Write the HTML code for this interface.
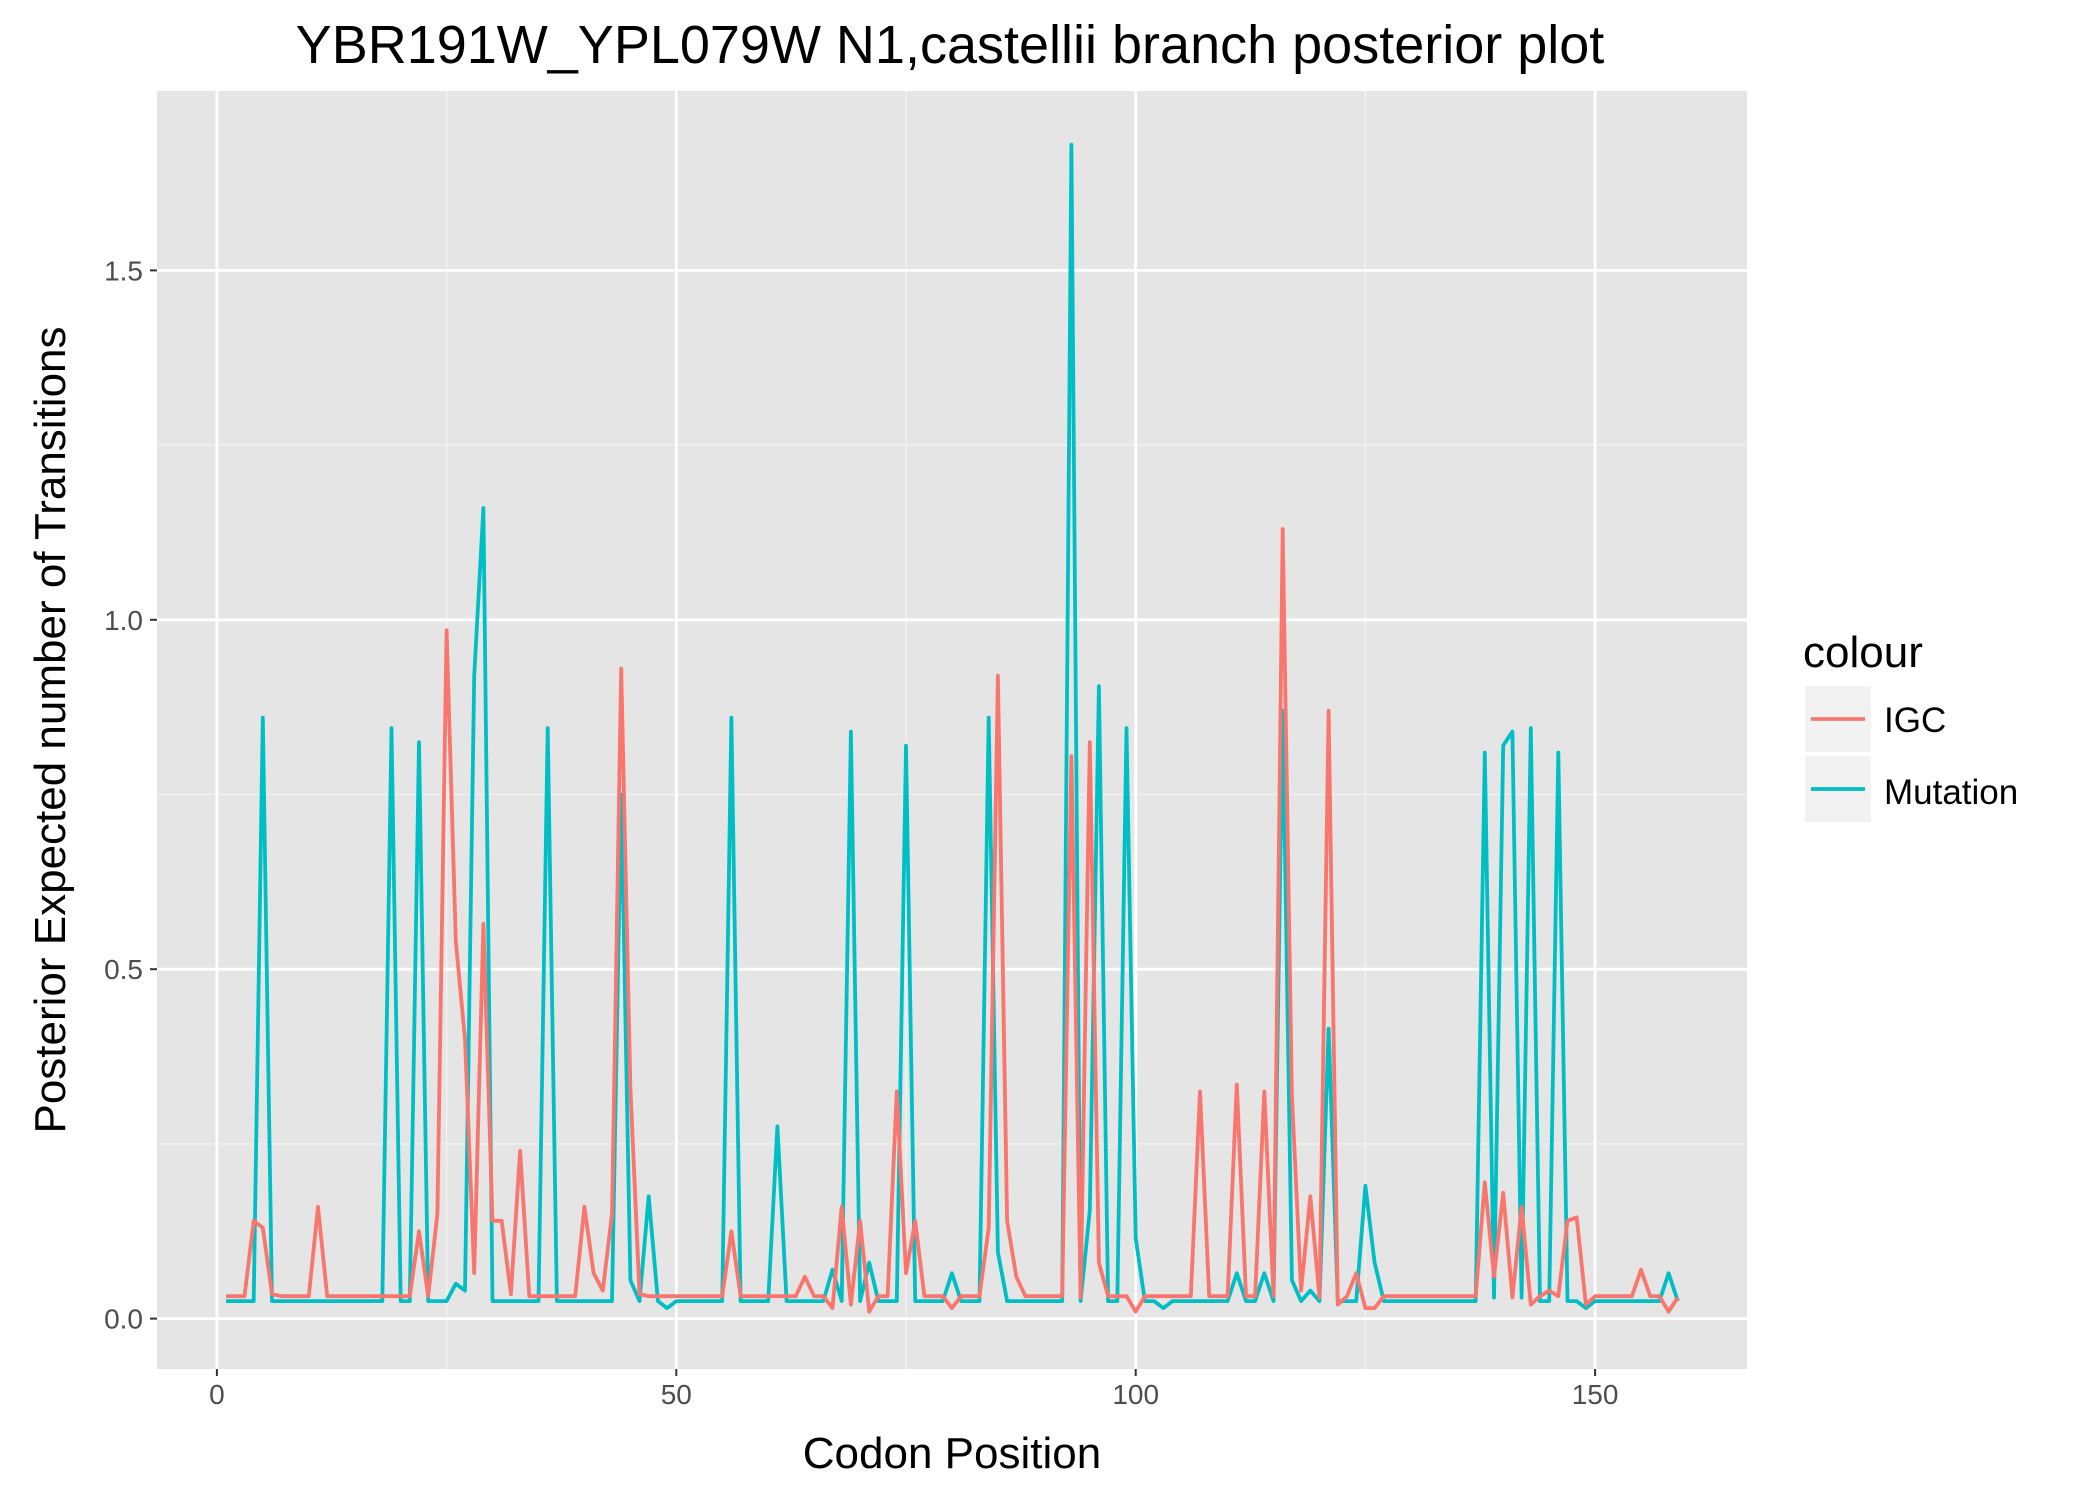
<!DOCTYPE html>
<html><head><meta charset="utf-8">
<style>
html,body{margin:0;padding:0;background:#fff;}
svg{display:block;font-family:"Liberation Sans",sans-serif;}
</style></head>
<body>
<svg id="chart" width="2099" height="1499" viewBox="0 0 2099 1499" xmlns="http://www.w3.org/2000/svg">
<rect x="0" y="0" width="2099" height="1499" fill="#ffffff"/>
<rect x="157" y="91" width="1590" height="1278" fill="#e5e5e5"/>
<g id="grid"></g>
<g id="series"></g>
<g id="ticks"></g>
<text x="950" y="63" font-size="54" text-anchor="middle" fill="#000">YBR191W_YPL079W N1,castellii branch posterior plot</text>
<text x="952" y="1468" font-size="44" text-anchor="middle" fill="#000">Codon Position</text>
<text transform="translate(65,730) rotate(-90)" font-size="44" text-anchor="middle" fill="#000">Posterior Expected number of Transitions</text>
<g>
<text x="1803" y="667" font-size="44" fill="#000">colour</text>
<rect x="1805" y="686" width="66" height="66" fill="#f2f2f2"/>
<line x1="1811" y1="719" x2="1865" y2="719" stroke="#F8766D" stroke-width="3.8"/>
<text x="1884" y="732" font-size="35" fill="#000">IGC</text>
<rect x="1805" y="756" width="66" height="66" fill="#f2f2f2"/>
<line x1="1811" y1="789" x2="1865" y2="789" stroke="#00BFC4" stroke-width="3.8"/>
<text x="1884" y="804" font-size="35" fill="#000">Mutation</text>
</g>
</svg>
<script>
const xTicks = [0, 50, 100, 150];
const xMinor = [25, 75, 125];
const yTicks = [0, 0.5, 1.0, 1.5];
const yTickLabels = ["0.0", "0.5", "1.0", "1.5"];
const yMinor = [0.25, 0.75, 1.25];
const igcPeaks = {4:0.14,5:0.13,6:0.035,11:0.16,22:0.125,24:0.15,25:0.985,26:0.54,27:0.4,28:0.065,29:0.565,30:0.14,31:0.14,32:0.035,33:0.24,40:0.16,41:0.065,42:0.04,43:0.15,44:0.93,45:0.33,46:0.035,56:0.125,64:0.06,67:0.015,68:0.16,69:0.02,70:0.14,71:0.01,74:0.325,75:0.065,76:0.14,80:0.015,84:0.13,85:0.92,86:0.14,87:0.06,93:0.805,94:0.03,95:0.825,96:0.08,100:0.01,107:0.325,111:0.335,114:0.325,116:1.13,117:0.32,118:0.04,119:0.175,120:0.03,121:0.87,122:0.02,124:0.065,125:0.015,126:0.015,138:0.195,139:0.06,140:0.18,141:0.03,142:0.16,143:0.02,145:0.04,147:0.14,148:0.145,149:0.02,155:0.07,158:0.01,159:0.03};
const mutPeaks = {5:0.86,19:0.845,22:0.825,26:0.05,27:0.04,28:0.92,29:1.16,36:0.845,44:0.75,45:0.055,47:0.175,49:0.015,56:0.86,61:0.275,67:0.07,69:0.84,71:0.08,75:0.82,80:0.065,84:0.86,85:0.095,93:1.68,95:0.155,96:0.905,99:0.845,100:0.115,103:0.015,111:0.065,114:0.065,116:0.87,117:0.055,119:0.04,121:0.415,125:0.19,126:0.08,138:0.81,139:0.03,140:0.82,141:0.84,142:0.03,143:0.845,146:0.81,149:0.015,158:0.065,159:0.025};
const igcValues = [], mutValues = [];
for (let i = 1; i <= 159; i++) {
  igcValues.push(igcPeaks[i] !== undefined ? igcPeaks[i] : 0.032);
  mutValues.push(mutPeaks[i] !== undefined ? mutPeaks[i] : 0.025);
}
const NS = "http://www.w3.org/2000/svg";
const X0 = 216.9, XU = 9.188, Y0 = 1318.6, YU = 698.8;
function xs(v){ return X0 + v * XU; }
function ys(v){ return Y0 - v * YU; }
function mk(tag, attrs, parent){ const e = document.createElementNS(NS, tag); for (const k in attrs) e.setAttribute(k, attrs[k]); parent.appendChild(e); return e; }
const grid = document.getElementById("grid");
yMinor.forEach(v => { const l = mk("line", {x1:157, x2:1747, y1:ys(v), y2:ys(v), stroke:"#f2f2f2", "stroke-width":1.4}, grid);
  
   });
xMinor.forEach(v => { const l = mk("line", {x1:xs(v), x2:xs(v), y1:91, y2:1369, stroke:"#f2f2f2", "stroke-width":1.4}, grid);
  
   });
yTicks.forEach(v => { const l = mk("line", {x1:157, x2:1747, y1:ys(v), y2:ys(v), stroke:"#ffffff", "stroke-width":2.8}, grid);
  
   });
xTicks.forEach(v => { const l = mk("line", {x1:xs(v), x2:xs(v), y1:91, y2:1369, stroke:"#ffffff", "stroke-width":2.8}, grid);
  
   });
const ticks = document.getElementById("ticks");
yTicks.forEach((v, k) => {
  const t = mk("line", {x1:150, x2:157, y1:ys(v), y2:ys(v), stroke:"#333", "stroke-width":2}, ticks);
  
  
  const tx = mk("text", {x:143, y:ys(v)+10, "font-size":28, "text-anchor":"end", fill:"#4d4d4d"}, ticks);
  tx.textContent = yTickLabels[k];
  
  
});
xTicks.forEach(v => {
  const t = mk("line", {x1:xs(v), x2:xs(v), y1:1369, y2:1376, stroke:"#333", "stroke-width":2}, ticks);
  
  
  const tx = mk("text", {x:xs(v), y:1404, "font-size":28, "text-anchor":"middle", fill:"#4d4d4d"}, ticks);
  tx.textContent = String(v);
  
  
});
const series = document.getElementById("series");
function drawLine(vals, color, name){
  const pts = vals.map((v, i) => xs(i + 1).toFixed(1) + "," + ys(v).toFixed(1)).join(" ");
  const p = mk("polyline", {points:pts, fill:"none", stroke:color, "stroke-width":3.8, "stroke-linejoin":"round"}, series);
  
  
}
drawLine(mutValues, "#00BFC4", "mutation-line");
drawLine(igcValues, "#F8766D", "igc-line");
</script>
</body></html>
